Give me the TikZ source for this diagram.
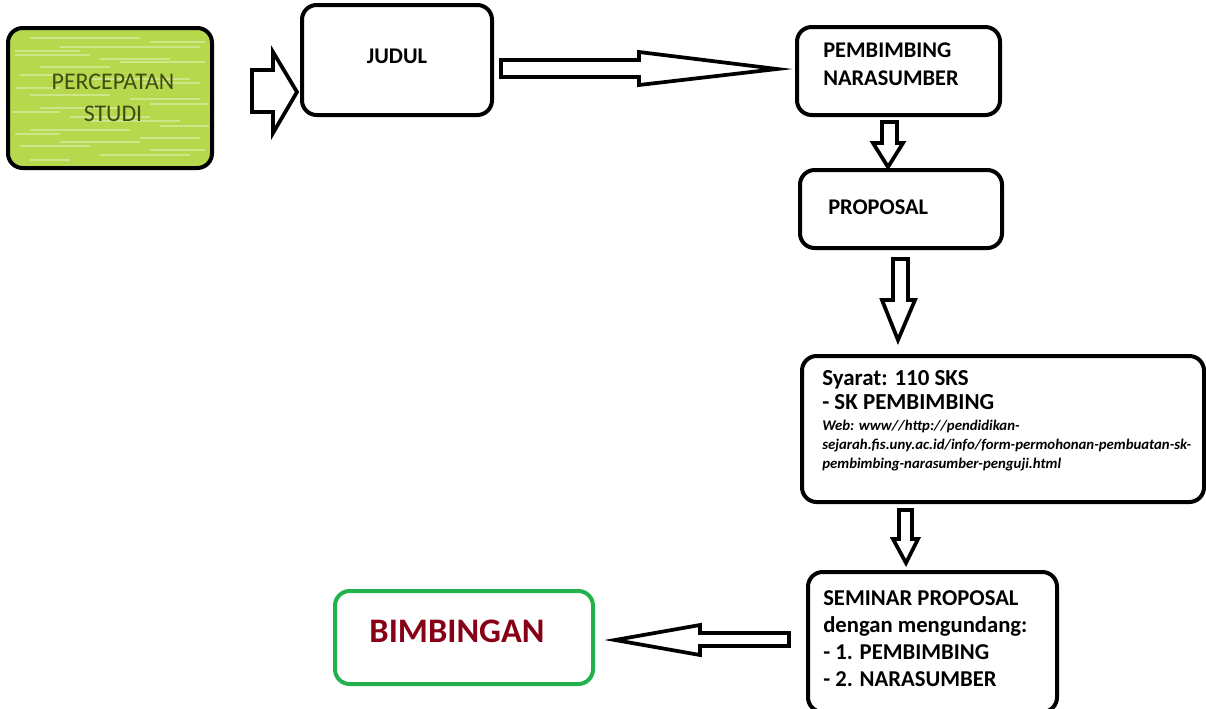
\documentclass[tikz,border=0pt]{standalone}
\usepackage{fontspec}
\setmainfont{Carlito}
\definecolor{boxgreen}{RGB}{181,216,76}
\definecolor{textolive}{RGB}{66,76,18}
\definecolor{bordergreen}{RGB}{34,177,76}
\definecolor{darkred}{RGB}{136,0,21}
\tikzset{
  px/.style={x=0.75pt,y=-0.75pt},
  stepbox/.style={draw=black,line width=3pt,rounded corners=11pt,fill=white},
  fatarrow/.style={draw=black,line width=2.8pt,fill=white,line join=miter},
  boldtxt/.style={font=\bfseries\fontsize{16.8}{21}\selectfont,align=left,inner sep=0pt},
}
\begin{document}
\begin{tikzpicture}[px]
\useasboundingbox (0,0) rectangle (1206,708);
% boxes
\node[stepbox,fill=boxgreen,minimum width={204*0.75pt},minimum height={140*0.75pt}] (perc) at (110,98) {};
\begin{scope}
\clip[rounded corners=9pt] (11,31) rectangle (209,165);
\foreach \yy/\xa/\xb in {38/30/140,42/150/205,47/60/200,51/15/80,55/15/90,59/100/170,62/120/205,67/40/110,75/20/70,79/90/190,83/140/200,88/15/60,95/30/110,99/130/200,104/150/209,108/40/120,112/12/60,117/70/150,121/90/180,126/160/209,130/30/130,134/15/60,138/140/200,142/60/140,146/20/90,150/150/205,155/100/190,160/30/70}{
  \draw[white,opacity=0.35,line width=1pt] (\xa,\yy) -- (\xb,\yy);
}
\end{scope}
\node[stepbox,minimum width={190*0.75pt},minimum height={110*0.75pt}] (judul) at (397,60) {};
\node[stepbox,minimum width={203*0.75pt},minimum height={88*0.75pt}] (pemb) at (898.5,71) {};
\node[stepbox,minimum width={202*0.75pt},minimum height={78*0.75pt}] (prop) at (901,209) {};
\node[stepbox,minimum width={402*0.75pt},minimum height={146*0.75pt}] (syarat) at (1003,429) {};
\node[stepbox,minimum width={249*0.75pt},minimum height={140*0.75pt}] (seminar) at (932.5,642) {};
\node[stepbox,draw=bordergreen,minimum width={258*0.75pt},minimum height={93*0.75pt}] (bimb) at (464,637.5) {};
% texts
\node[font=\fontsize{17.9}{24}\selectfont,text=textolive,align=center,inner sep=0pt] (percT) at (113,98) {PERCEPATAN\\STUDI};
\node[boldtxt] (judulT) at (397,56) {JUDUL};
\node[boldtxt,anchor=west] (pembT) at (823,64) {PEMBIMBING\\NARASUMBER};
\node[boldtxt,anchor=west] (propT) at (828,207) {PROPOSAL};
\node[boldtxt,anchor=north west,font=\bfseries\fontsize{17.2}{18.5}\selectfont] (syaratT) at (822,370) {Syarat: 110 SKS\\- SK PEMBIMBING};
\node[anchor=north west,align=left,inner sep=0pt,font=\bfseries\itshape\fontsize{11.1}{14.2}\selectfont] (webT) at (822,420) {Web: www//http://pendidikan-\\sejarah.fis.uny.ac.id/info/form-permohonan-pembuatan-sk-\\pembimbing-narasumber-penguji.html};
\node[boldtxt,anchor=north west,font=\bfseries\fontsize{17}{20.4}\selectfont] (seminarT) at (823,590) {SEMINAR PROPOSAL\\dengan mengundang:\\- 1. PEMBIMBING\\- 2. NARASUMBER};
\node[inner sep=0pt,text=darkred,font=\bfseries\fontsize{25.8}{30}\selectfont] (bimbT) at (457,631) {BIMBINGAN};
% fat arrows
\draw[fatarrow] (252,70) -- (273,70) -- (273,52) -- (297,92) -- (273,133) -- (273,112) -- (252,112) -- cycle;
\draw[fatarrow] (501,60) -- (639,60) -- (639,52) -- (777,69) -- (639,85) -- (639,77) -- (501,77) -- cycle;
\draw[fatarrow] (882,122) -- (897,122) -- (897,143) -- (903,143) -- (888,167) -- (873,143) -- (882,143) -- cycle;
\draw[fatarrow] (893,259) -- (908,259) -- (908,300) -- (915,300) -- (898,340) -- (882,300) -- (893,300) -- cycle;
\draw[fatarrow] (899,510) -- (912,510) -- (912,539) -- (918,539) -- (906,563) -- (893,539) -- (899,539) -- cycle;
\draw[fatarrow] (789,633) -- (700,633) -- (700,625) -- (615,640) -- (700,655) -- (700,646) -- (789,646) -- cycle;
\end{tikzpicture}
\end{document}
